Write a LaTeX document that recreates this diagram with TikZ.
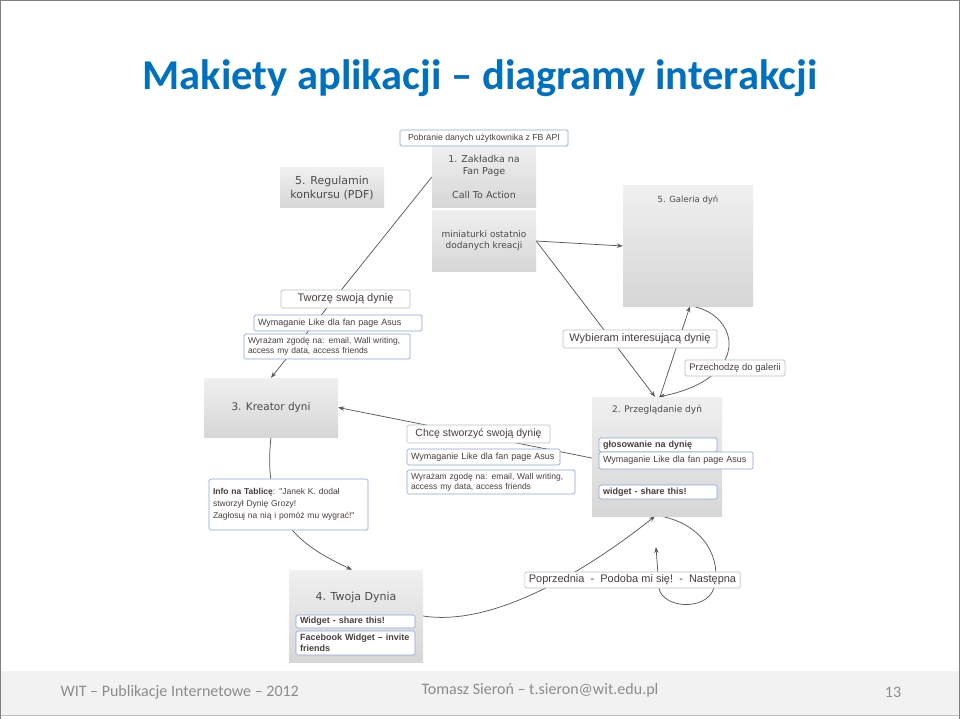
\documentclass[tikz,border=0pt]{standalone}
\usepackage{fontspec}
\setmainfont{Carlito}
\newfontfamily\scrfont{DejaVu Sans}
\newfontfamily\lblfont{Liberation Sans}
\usetikzlibrary{arrows.meta,positioning,backgrounds}
\definecolor{titleblue}{RGB}{0,112,192}
\definecolor{scrink}{RGB}{75,75,75}
\definecolor{lblink}{RGB}{75,62,62}
\definecolor{tagblue}{RGB}{140,165,215}
\definecolor{taggrey}{RGB}{190,190,190}
\definecolor{linegrey}{RGB}{90,90,90}
\definecolor{footgrey}{RGB}{140,140,140}
\newcommand{\fsz}[2]{\fontsize{#1}{#2}\selectfont}
\tikzset{
  >={Stealth[length=6pt,width=4.5pt]},
  screen/.style 2 args={rectangle,top color=black!6,bottom color=black!16,
    inner sep=0pt,align=center,text=scrink,font=\scrfont\fsz{#1}{#2}},
  tag/.style={rectangle,draw=#1,fill=white,rounded corners=1.5pt,line width=0.7pt,
    inner xsep=4pt,inner ysep=0pt,align=left,text=lblink},
  tag/.default=tagblue,
  lbl/.style 2 args={font=\lblfont\fsz{#1}{#2}},
  lblb/.style 2 args={font=\lblfont\bfseries\fsz{#1}{#2}},
  flow/.style={->,draw=linegrey,line width=0.75pt},
  foot/.style={font=\fsz{16}{19},text=footgrey},
}

\begin{document}
\begin{tikzpicture}[x=1pt,y=-1pt]
  \useasboundingbox (0,0) rectangle (960,719);
  % slide frame, title and footer
  \fill[black!5] (0,671) rectangle (960,715);
  \draw[black!25] (0,715) -- (960,715);
  \draw[black!50] (0.5,719) -- (0.5,0.5) -- (959.5,0.5) -- (959.5,719);
  \node[font=\bfseries\fsz{42.5}{46},text=titleblue] (title) at (480,78) {Makiety aplikacji – diagramy interakcji};
  \node[foot,anchor=west] (wit) at (57,692) {WIT – Publikacje Internetowe – 2012};
  \node[foot] (autor) at (540,690) {Tomasz Sieroń – t.sieron@wit.edu.pl};
  \node[foot] (nr) at (893,692) {13};

  % screens
  \node[screen={9.5}{12},minimum width=104,minimum height=62] (fanpage) at (484,177)
    {1. Zakładka na\\Fan Page\\[12pt]Call To Action};
  \node[screen={9}{11},minimum width=104,minimum height=61] (mini) at (484,241)
    {miniaturki ostatnio\\dodanych kreacji};
  \node[screen={11}{14},minimum width=104,minimum height=40] (regulamin) at (332,188)
    {5. Regulamin\\konkursu (PDF)};
  \node[screen={8.5}{10},minimum width=130,minimum height=120] (galeria) at (688,246) {};
  \node[font=\scrfont\fsz{8.5}{10},text=scrink] (galeriaT) at ([yshift=-14pt]galeria.north) {5. Galeria dyń};
  \node[screen={10.5}{12},minimum width=134,minimum height=59] (kreator) at (271,407.5) {3. Kreator dyni};
  \node[screen={9}{11},minimum width=130,minimum height=119] (przegl) at (657,456.5) {};
  \node[font=\scrfont\fsz{9}{11},text=scrink] (przeglT) at ([yshift=-13pt]przegl.north) {2. Przeglądanie dyń};
  \node[screen={11}{13},minimum width=134,minimum height=92] (twoja) at (356,616) {};
  \node[font=\scrfont\fsz{11}{13},text=scrink] (twojaT) at ([yshift=-28pt]twoja.north) {4. Twoja Dynia};

  % labels
  \node[tag,lbl={8.7}{11},minimum width=168,minimum height=16] (fbapi) at (484,138) {Pobranie danych użytkownika z FB API};
  \node[tag=taggrey,lbl={11}{13},minimum width=129,minimum height=18] (tworze) at (345.5,299) {Tworzę swoją dynię};
  \node[tag,lbl={9}{11},text width=160,minimum height=16] (like1) at (338,323) {Wymaganie Like dla fan page Asus};
  \node[tag,lbl={8.5}{10},text width=158,minimum height=25] (zgoda1) at (327,346.5)
    {Wyrażam zgodę na: email, Wall writing,\\access my data, access friends};
  \node[tag=taggrey,lbl={10.5}{12},minimum width=143,minimum height=18] (chce) at (478.5,434) {Chcę stworzyć swoją dynię};
  \node[tag,lbl={9}{11},text width=145,minimum height=16] (like2) at (483.5,457) {Wymaganie Like dla fan page Asus};
  \node[tag,lbl={8.5}{10},text width=160,minimum height=24] (zgoda2) at (491,482)
    {Wyrażam zgodę na: email, Wall writing,\\access my data, access friends};
  \node[tag,lblb={9}{11},text width=110,minimum height=14] (glos) at (658,445) {głosowanie na dynię};
  \node[tag,lbl={9}{11},text width=146,minimum height=17] (like3) at (676,460.5) {Wymaganie Like dla fan page Asus};
  \node[tag,lblb={9}{11},text width=110,minimum height=14] (widget2) at (658,492) {widget - share this!};
  \node[tag,lbl={8.5}{12},text width=151,minimum height=51] (info) at (288.5,504.5)
    {\textbf{Info na Tablicę}: "Janek K. dodał\\stworzył Dynię Grozy!\\Zagłosuj na nią i pomóż mu wygrać!"};
  \node[tag,lblb={9}{11},text width=111,minimum height=13] (widget4) at (355.5,621.5) {Widget - share this!};
  \node[tag,lblb={9}{11},text width=111,minimum height=24] (fbwidget) at (355.5,643) {Facebook Widget – invite\\friends};
  \node[tag=taggrey,lbl={11}{13},minimum width=215,minimum height=16] (nawig) at (632.5,580)
    {Poprzednia~~-~~Podoba mi się!~~-~~Następna};
  \node[tag=taggrey,lbl={11}{13},minimum width=154,minimum height=18] (wybieram) at (640,339) {Wybieram interesującą dynię};
  \node[tag=taggrey,lbl={9.5}{11},minimum width=100,minimum height=16] (galerii) at (735,368) {Przechodzę do galerii};
  \coordinate (loopend) at (656,547);

  % connectors
  \begin{scope}[on background layer]
    \draw[flow] (fanpage.west) -- (kreator.north);
    \draw[flow] (mini.east) -- (galeria.west);
    \draw[flow] (mini.east) -- ([xshift=-2pt]przegl.north);
    \draw[flow] ([xshift=3pt]przegl.north) -- ([xshift=2pt]galeria.south);
    \draw[flow] ([xshift=4pt]galeria.south) .. controls (740,315) and (752,378) .. ([xshift=2pt]przegl.north);
    \draw[flow] ([yshift=-1.5pt]przegl.west) -- (kreator.east);
    \draw[flow] (kreator.south) .. controls (262,520) and (300,545) .. ([xshift=-4pt]twoja.north);
    \draw[flow] (twoja.east) .. controls (500,628) and (600,560) .. ([xshift=-2pt]przegl.south);
    \draw[flow] ([xshift=4pt]przegl.south) .. controls (705,525) and (722,560) .. (714,588)
      .. controls (706,612) and (662,608) .. (659,588) -- (loopend);
  \end{scope}
\end{tikzpicture}
\end{document}
